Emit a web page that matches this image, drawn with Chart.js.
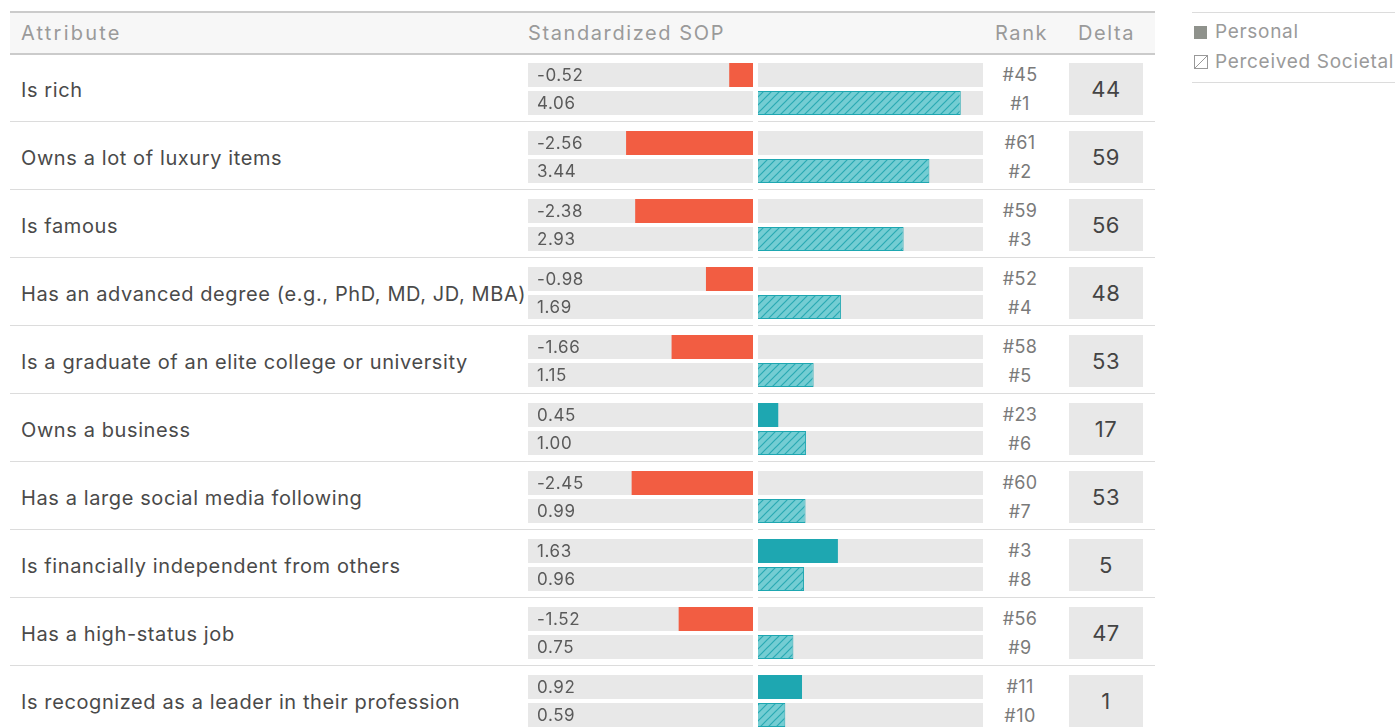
<html>
<head>
<script src="https://cdn.jsdelivr.net/npm/chart.js@4.4.1/dist/chart.umd.min.js"></script>
<style>
body { margin: 0; width: 1395px; height: 728px; overflow: hidden; background: #fff; font-family: "Inter", sans-serif; color: #4a4a4a; position: relative; }
.abs { position: absolute; white-space: nowrap; }
.head { left: 10px; top: 11px; width: 1145px; height: 40px; background: #f7f7f7; border-top: 2px solid #cbcbcb; border-bottom: 2px solid #cbcbcb; }
.htxt { top: 22px; font-size: 20px; color: #9a9a9a; line-height: 22px; letter-spacing: 1.6px; }
.sep { left: 10px; width: 1145px; height: 1px; background: #dcdcdc; }
.label { left: 21px; font-size: 20px; line-height: 24px; color: #4a4a4a; letter-spacing: 0.6px; }
.rank { width: 60px; left: 990px; text-align: center; font-size: 18px; line-height: 24px; color: #7a7a7a; letter-spacing: 0.4px; }
.delta { left: 1069px; width: 74px; height: 52px; background: #e8e8e8; text-align: center; line-height: 52px; font-size: 22px; color: #444; letter-spacing: 0.5px; }
.leg { font-size: 19px; color: #9a9a9a; line-height: 22px; letter-spacing: 0.7px; }
#chart { position: absolute; left: 528px; top: 55px; }
</style>
</head>
<body>
<div class="abs head"></div>
<div class="abs htxt" style="left:21px;letter-spacing:2.2px">Attribute</div>
<div class="abs htxt" style="left:528px">Standardized SOP</div>
<div class="abs htxt" style="left:995px">Rank</div>
<div class="abs htxt" style="left:1078px">Delta</div>

<div class="abs sep" style="left:1192px;width:203px;top:12px"></div>
<div class="abs" style="left:1194px;top:26px;width:13px;height:13px;background:#8f928c"></div>
<div class="abs leg" style="left:1215px;top:21px">Personal</div>
<svg class="abs" style="left:1194px;top:55px" width="14" height="14"><rect x="0.5" y="0.5" width="13" height="13" fill="none" stroke="#999" stroke-width="1"/><line x1="1" y1="13" x2="13" y2="1" stroke="#999" stroke-width="1"/></svg>
<div class="abs leg" style="left:1215px;top:51px">Perceived Societal</div>
<div class="abs sep" style="left:1192px;width:203px;top:82px"></div>

<div id="table"></div>
<canvas id="chart" width="455" height="680"></canvas>

<script>
const attributes = [
  'Is rich',
  'Owns a lot of luxury items',
  'Is famous',
  'Has an advanced degree (e.g., PhD, MD, JD, MBA)',
  'Is a graduate of an elite college or university',
  'Owns a business',
  'Has a large social media following',
  'Is financially independent from others',
  'Has a high-status job',
  'Is recognized as a leader in their profession'
];
const personal = [-0.52, -2.56, -2.38, -0.98, -1.66, 0.45, -2.45, 1.63, -1.52, 0.92];
const societal = [4.06, 3.44, 2.93, 1.69, 1.15, 1.00, 0.99, 0.96, 0.75, 0.59];
const personalRank = [45, 61, 59, 52, 58, 23, 60, 3, 56, 11];
const societalRank = [1, 2, 3, 4, 5, 6, 7, 8, 9, 10];
const delta = [44, 59, 56, 48, 53, 17, 53, 5, 47, 1];

const RED = '#f25d42';
const TEAL = '#1ea7b1';

// table text
const table = document.getElementById('table');
const rowH = 68, top0 = 54;
let html = '';
attributes.forEach((a, i) => {
  const t = top0 + rowH * i;
  html += '<div class="abs label" style="top:' + (t + 24) + 'px">' + a + '</div>';
  html += '<div class="abs rank" style="top:' + (t + 9) + 'px">#' + personalRank[i] + '</div>';
  html += '<div class="abs rank" style="top:' + (t + 38) + 'px">#' + societalRank[i] + '</div>';
  html += '<div class="abs delta" style="top:' + (t + 9) + 'px">' + delta[i] + '</div>';
  html += '<div class="abs sep" style="top:' + (t + 67) + 'px"></div>';
});
table.innerHTML = html;

// hatch pattern for perceived societal
function hatch() {
  const c = document.createElement('canvas');
  c.width = 8; c.height = 8;
  const g = c.getContext('2d');
  g.fillStyle = '#74cdd3';
  g.fillRect(0, 0, 8, 8);
  g.strokeStyle = '#2aa9b3';
  g.lineWidth = 1.2;
  g.beginPath();
  g.moveTo(-2, 10); g.lineTo(10, -2);
  g.moveTo(-2, 2); g.lineTo(2, -2);
  g.moveTo(6, 10); g.lineTo(10, 6);
  g.stroke();
  return g.createPattern(c, 'repeat');
}

const rowBackground = {
  id: 'rowBackground',
  beforeDatasetsDraw(chart) {
    const ctx = chart.ctx, area = chart.chartArea;
    ctx.save();
    ctx.fillStyle = '#e8e8e8';
    chart.data.datasets.forEach((d, di) => {
      chart.getDatasetMeta(di).data.forEach(el => {
        ctx.fillRect(area.left, el.y - el.height / 2, area.right - area.left, el.height);
      });
    });
    ctx.restore();
  },
  afterDatasetsDraw(chart) {
    const ctx = chart.ctx, area = chart.chartArea;
    const x0 = chart.scales.x.getPixelForValue(0);
    ctx.save();
    ctx.fillStyle = '#fff';
    ctx.fillRect(x0 - 2.5, area.top, 5, area.bottom - area.top);
    ctx.font = '17px Inter, sans-serif';
    ctx.letterSpacing = '0.6px';
    ctx.fillStyle = '#5a5a5a';
    ctx.textBaseline = 'middle';
    chart.data.datasets.forEach((d, di) => {
      chart.getDatasetMeta(di).data.forEach((el, i) => {
        ctx.fillText(d.data[i].toFixed(2), area.left + 9, el.y + 1);
      });
    });
    ctx.restore();
  }
};

new Chart(document.getElementById('chart'), {
  type: 'bar',
  data: {
    labels: attributes,
    datasets: [{
      label: 'Personal',
      data: personal,
      backgroundColor: personal.map(v => v < 0 ? RED : TEAL),
      borderWidth: 0
    }, {
      label: 'Perceived Societal',
      data: societal,
      backgroundColor: hatch(),
      borderColor: TEAL,
      borderWidth: 1
    }]
  },
  options: {
    indexAxis: 'y',
    responsive: false,
    devicePixelRatio: 1,
    animation: false,
    categoryPercentage: 56 / 68,
    barPercentage: 24 / 28,
    layout: { padding: 0 },
    plugins: { legend: { display: false }, tooltip: { enabled: false } },
    scales: {
      x: { min: -4.5, max: 4.5, display: false },
      y: { display: false, offset: true }
    }
  },
  plugins: [rowBackground]
});
</script>
</body>
</html>
